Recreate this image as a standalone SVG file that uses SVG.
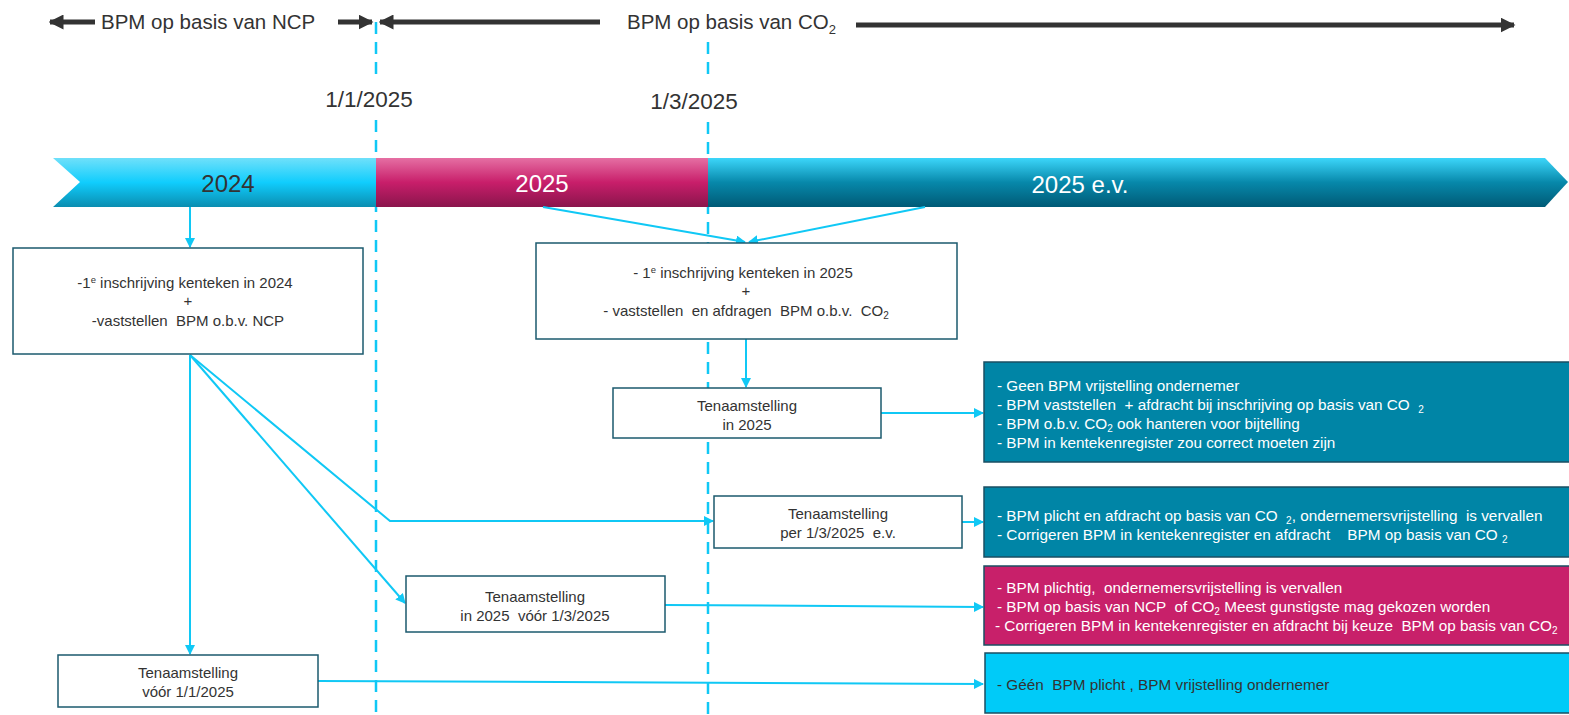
<svg xmlns="http://www.w3.org/2000/svg" width="1569" height="715" viewBox="0 0 1569 715">
<defs>
<linearGradient id="g2024" x1="0" y1="0" x2="0" y2="1">
<stop offset="0" stop-color="#6fe0fa"/><stop offset="0.5" stop-color="#10cdfd"/><stop offset="1" stop-color="#0a8db0"/>
</linearGradient>
<linearGradient id="g2025" x1="0" y1="0" x2="0" y2="1">
<stop offset="0" stop-color="#e56fa3"/><stop offset="0.5" stop-color="#c81e6a"/><stop offset="1" stop-color="#8a154c"/>
</linearGradient>
<linearGradient id="gev" x1="0" y1="0" x2="0" y2="1">
<stop offset="0" stop-color="#3cd6fa"/><stop offset="0.5" stop-color="#0788aa"/><stop offset="1" stop-color="#005a76"/>
</linearGradient>
<marker id="ah" viewBox="0 0 10 10" refX="9" refY="5" markerWidth="5" markerHeight="5" orient="auto" markerUnits="strokeWidth">
<path d="M0,0 L10,5 L0,10 z" fill="#10c8f5"/>
</marker>
<marker id="bh" viewBox="0 0 10 10" refX="9" refY="5" markerWidth="3" markerHeight="3" orient="auto" markerUnits="strokeWidth">
<path d="M0,0 L10,5 L0,10 z" fill="#333"/>
</marker>
</defs>
<style>
text{font-family:"Liberation Sans",Arial,sans-serif;white-space:pre;}
.top{font-size:20.5px;fill:#333;}
.date{font-size:22.5px;fill:#333;}
.band{font-size:24px;}
.bx{fill:#fff;stroke:#1b5a6e;stroke-width:1.5;}
.bt{font-size:15px;fill:#333;text-anchor:middle;}
.ib{stroke:#1a4f63;stroke-width:1.5;}
.it{font-size:15.3px;fill:#fff;}
.con{stroke:#10c8f5;stroke-width:2;fill:none;}
.dash{stroke:#10c8f5;stroke-width:2.5;stroke-dasharray:12,8;fill:none;}
.blk{stroke:#333;stroke-width:5;fill:none;}
</style>

<g id="top-arrows">
<line class="blk" x1="95" y1="22" x2="50" y2="22" marker-end="url(#bh)"/>
<text class="top" x="101" y="29">BPM op basis van NCP</text>
<line class="blk" x1="338" y1="22" x2="372" y2="22" marker-end="url(#bh)"/>
<line class="blk" x1="600" y1="22" x2="380" y2="22" marker-end="url(#bh)"/>
<text class="top" x="627" y="29">BPM op basis van CO<tspan font-size="13" dy="5">2</tspan></text>
<line class="blk" x1="856" y1="25" x2="1514" y2="25" marker-end="url(#bh)"/>
</g>

<g id="date-lines">
<line class="dash" x1="376" y1="22" x2="376" y2="82"/>
<line class="dash" x1="376" y1="120" x2="376" y2="715"/>
<line class="dash" x1="708" y1="42" x2="708" y2="82"/>
<line class="dash" x1="708" y1="122" x2="708" y2="715"/>
<text class="date" x="369" y="107" text-anchor="middle">1/1/2025</text>
<text class="date" x="694" y="109" text-anchor="middle">1/3/2025</text>
</g>

<g id="band">
<polygon points="53,158 377,158 377,207 53,207 80,182" fill="url(#g2024)"/>
<rect x="376" y="158" width="332" height="49" fill="url(#g2025)"/>
<polygon points="708,158 1545,158 1568,182 1545,207 708,207" fill="url(#gev)"/>
<text class="band" x="228" y="192" text-anchor="middle" fill="#333">2024</text>
<text class="band" x="542" y="192" text-anchor="middle" fill="#fff">2025</text>
<text class="band" x="1080" y="193" text-anchor="middle" fill="#fff">2025 e.v.</text>
</g>

<g id="connectors">
<line class="con" x1="190" y1="207" x2="190" y2="247" marker-end="url(#ah)"/>
<line class="con" x1="543" y1="207" x2="745" y2="242" marker-end="url(#ah)"/>
<line class="con" x1="925" y1="207" x2="749" y2="242" marker-end="url(#ah)"/>
<line class="con" x1="746" y1="339" x2="746" y2="387" marker-end="url(#ah)"/>
<line class="con" x1="881" y1="413" x2="983" y2="413" marker-end="url(#ah)"/>
<line class="con" x1="190" y1="355" x2="190" y2="654" marker-end="url(#ah)"/>
<polyline class="con" points="190,355 390,521 713,521" marker-end="url(#ah)"/>
<line class="con" x1="190" y1="355" x2="405" y2="603" marker-end="url(#ah)"/>
<line class="con" x1="962" y1="522" x2="983" y2="522" marker-end="url(#ah)"/>
<line class="con" x1="665" y1="605" x2="983" y2="607" marker-end="url(#ah)"/>
<line class="con" x1="318" y1="681" x2="983" y2="684" marker-end="url(#ah)"/>
</g>

<g id="box-2024">
<rect class="bx" x="13" y="248" width="350" height="106"/>
<text class="bt" x="185" y="288">-1<tspan font-size="9.5" dy="-5">e</tspan><tspan dy="5"> inschrijving kenteken in 2024</tspan></text>
<text class="bt" x="188" y="306">+</text>
<text class="bt" x="188" y="326">-vaststellen  BPM o.b.v. NCP</text>
</g>

<g id="box-2025">
<rect class="bx" x="536" y="243" width="421" height="96"/>
<text class="bt" x="743" y="278">- 1<tspan font-size="9.5" dy="-5">e</tspan><tspan dy="5"> inschrijving kenteken in 2025</tspan></text>
<text class="bt" x="746" y="296">+</text>
<text class="bt" x="746" y="316">- vaststellen  en afdragen  BPM o.b.v.  CO<tspan font-size="10" dy="3">2</tspan></text>
</g>

<g id="box-ten-2025">
<rect class="bx" x="613" y="388" width="268" height="50"/>
<text class="bt" x="747" y="411">Tenaamstelling</text>
<text class="bt" x="747" y="430">in 2025</text>
</g>

<g id="box-ten-per">
<rect class="bx" x="714" y="496" width="248" height="52"/>
<text class="bt" x="838" y="519">Tenaamstelling</text>
<text class="bt" x="838" y="538">per 1/3/2025  e.v.</text>
</g>

<g id="box-ten-voor13">
<rect class="bx" x="406" y="576" width="259" height="56"/>
<text class="bt" x="535" y="602">Tenaamstelling</text>
<text class="bt" x="535" y="621">in 2025  vóór 1/3/2025</text>
</g>

<g id="box-ten-voor11">
<rect class="bx" x="58" y="655" width="260" height="52"/>
<text class="bt" x="188" y="678">Tenaamstelling</text>
<text class="bt" x="188" y="697">vóór 1/1/2025</text>
</g>

<g id="info-1">
<rect class="ib" x="984" y="362" width="590" height="100" fill="#0085a6"/>
<text class="it" x="997" y="391">- Geen BPM vrijstelling ondernemer</text>
<text class="it" x="997" y="410">- BPM vaststellen  + afdracht bij inschrijving op basis van CO  <tspan font-size="10" dy="3">2</tspan></text>
<text class="it" x="997" y="429">- BPM o.b.v. CO<tspan font-size="10" dy="3">2</tspan><tspan dy="-3"> ook hanteren voor bijtelling</tspan></text>
<text class="it" x="997" y="448">- BPM in kentekenregister zou correct moeten zijn</text>
</g>

<g id="info-2">
<rect class="ib" x="984" y="487" width="590" height="70" fill="#0085a6"/>
<text class="it" x="997" y="521">- BPM plicht en afdracht op basis van CO  <tspan font-size="10" dy="3">2</tspan><tspan dy="-3">, ondernemersvrijstelling  is vervallen</tspan></text>
<text class="it" x="997" y="540">- Corrigeren BPM in kentekenregister en afdracht    BPM op basis van CO <tspan font-size="10" dy="3">2</tspan></text>
</g>

<g id="info-3">
<rect class="ib" x="984" y="566" width="590" height="79" fill="#c8206a"/>
<text class="it" x="997" y="593">- BPM plichtig,  ondernemersvrijstelling is vervallen</text>
<text class="it" x="997" y="612">- BPM op basis van NCP  of CO<tspan font-size="10" dy="3">2</tspan><tspan dy="-3"> Meest gunstigste mag gekozen worden</tspan></text>
<text class="it" x="995" y="631">- Corrigeren BPM in kentekenregister en afdracht bij keuze  BPM op basis van CO<tspan font-size="10" dy="3">2</tspan></text>
</g>

<g id="info-4">
<rect class="ib" x="985" y="653" width="590" height="60" fill="#00cbf8"/>
<text class="it" x="997" y="690" style="fill:#333">- Géén  BPM plicht , BPM vrijstelling ondernemer</text>
</g>
</svg>
